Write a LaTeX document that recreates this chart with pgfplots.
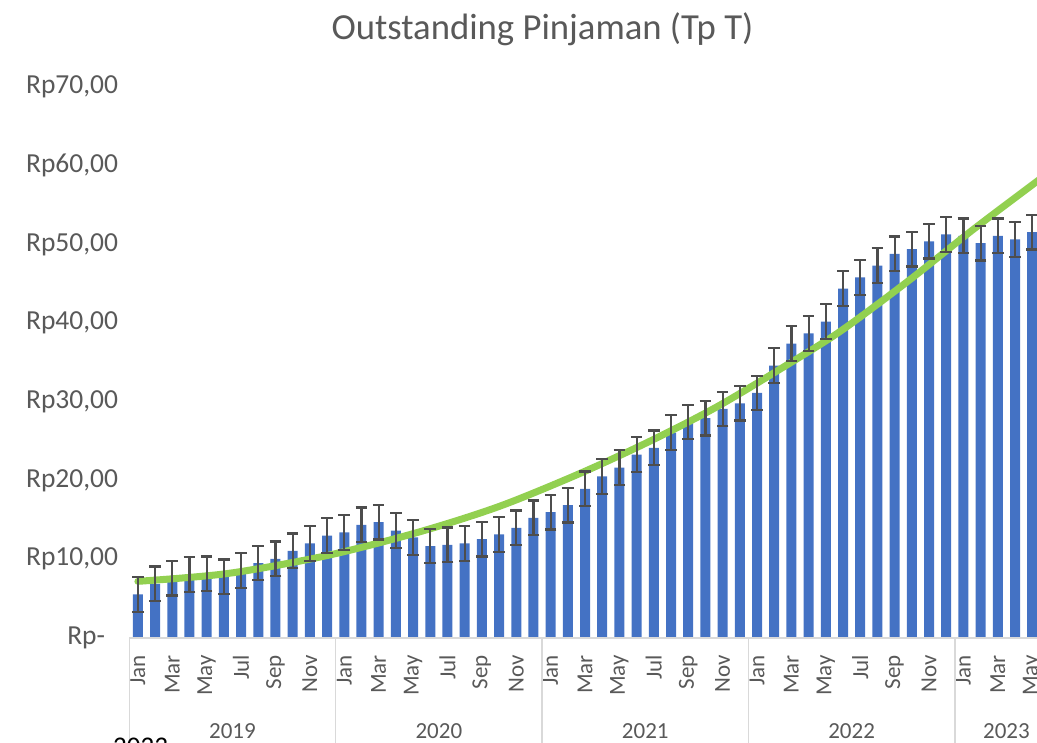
\documentclass[border=0pt]{standalone}
\usepackage{pgfplots}
\usepackage{pgfplotstable}
\pgfplotsset{compat=1.18}
\usepackage{fontspec}
\setmainfont{Carlito}

\definecolor{barblue}{HTML}{4472C4}
\definecolor{trendgreen}{HTML}{92D050}
\definecolor{errgray}{HTML}{4D4D4D}
\definecolor{txtgray}{HTML}{595959}
\definecolor{axgray}{HTML}{D9D9D9}

% outstanding loans per month, Jan 2019 (i=0) .. May 2023 (i=52)
\pgfplotstableread{
i v
0 5.55
1 6.89
2 7.61
3 8.06
4 8.16
5 7.78
6 8.60
7 9.52
8 10.06
9 11.07
10 12.03
11 13.00
12 13.41
13 14.38
14 14.72
15 13.64
16 12.78
17 11.68
18 11.84
19 12.01
20 12.56
21 13.16
22 14.00
23 15.27
24 15.99
25 16.88
26 18.95
27 20.52
28 21.66
29 23.31
30 24.15
31 26.10
32 27.45
33 27.92
34 29.10
35 29.82
36 31.13
37 34.60
38 37.40
39 38.70
40 40.19
41 44.40
42 45.80
43 47.30
44 48.80
45 49.40
46 50.40
47 51.27
48 51.10
49 50.17
50 51.10
51 50.63
52 51.56
}\loantable

\begin{document}
\begin{tikzpicture}
\begin{axis}[
    at={(129.3pt,-638pt)}, anchor=south west,
    scale only axis, width=928.7pt, height=551pt,
    xmin=-0.5, xmax=53.5, ymin=0, ymax=70,
    clip=false,
    axis line style={draw=none},
    major tick length=0pt,
    xtick={0,2,...,52},
    xticklabels={Jan,Mar,May,Jul,Sep,Nov,Jan,Mar,May,Jul,Sep,Nov,
                 Jan,Mar,May,Jul,Sep,Nov,Jan,Mar,May,Jul,Sep,Nov,
                 Jan,Mar,May},
    xticklabel style={yshift=-17pt, rotate=90, anchor=east, inner sep=0pt,
                      font=\fontsize{23}{23}\selectfont, text=txtgray},
    ytick={0,10,...,70},
    yticklabels={{Rp-\hspace*{13pt}},{Rp10,00},{Rp20,00},{Rp30,00},
                 {Rp40,00},{Rp50,00},{Rp60,00},{Rp70,00}},
    yticklabel style={anchor=east, inner sep=0pt, xshift=-11pt,
                      font=\fontsize{27.5}{27.5}\selectfont, text=txtgray},
  ]
  \addplot[ybar, bar width=10pt, fill=barblue, draw=none]
    table[x=i, y=v] {\loantable};
  % polynomial trend line
  \addplot[trendgreen, line width=7pt, smooth, line cap=round]
    coordinates {(0,7.2) (5.24,8.2) (11.05,10.5) (16.4,13.5) (21.05,16.75)
                 (25.7,20.9) (29.77,25.0) (33.65,29.35) (37.52,34.4)
                 (40.8,38.9) (44.7,45.2) (48.57,51.9) (52.27,58.0) (53,59.2)};
  \addplot[draw=none, mark=none, forget plot,
           error bars/.cd, y dir=both, y fixed=2.2, error mark=-,
           error bar style={draw=errgray, line width=2.2pt},
           error mark options={rotate=90, draw=errgray, line width=2.2pt,
                               mark size=5.8pt}]
    table[x=i, y=v] {\loantable};

  \draw[axgray, line width=1.5pt] (axis cs:-0.5,0) -- (axis cs:53.5,0);
  \draw[axgray, line width=1.5pt] (axis cs:-0.5,0) -- ++(0pt,-110pt);
  \draw[axgray, line width=1.5pt] (axis cs:11.5,0) -- ++(0pt,-110pt);
  \draw[axgray, line width=1.5pt] (axis cs:23.5,0) -- ++(0pt,-110pt);
  \draw[axgray, line width=1.5pt] (axis cs:35.5,0) -- ++(0pt,-110pt);
  \draw[axgray, line width=1.5pt] (axis cs:47.5,0) -- ++(0pt,-110pt);

  \node[anchor=base, yshift=-100pt, text=txtgray, font=\fontsize{23}{23}\selectfont]
    at (axis cs:5.5,0) {2019};
  \node[anchor=base, yshift=-100pt, text=txtgray, font=\fontsize{23}{23}\selectfont]
    at (axis cs:17.5,0) {2020};
  \node[anchor=base, yshift=-100pt, text=txtgray, font=\fontsize{23}{23}\selectfont]
    at (axis cs:29.5,0) {2021};
  \node[anchor=base, yshift=-100pt, text=txtgray, font=\fontsize{23}{23}\selectfont]
    at (axis cs:41.5,0) {2022};
  \node[anchor=base, yshift=-100pt, text=txtgray, font=\fontsize{23}{23}\selectfont]
    at (axis cs:50.5,0) {2023};
\end{axis}

\node[anchor=base, text=txtgray, font=\fontsize{36.7}{36.7}\selectfont]
  at (542.5pt,-39.5pt) {Outstanding Pinjaman (Tp T)};
% stray label cut off at the lower edge of the screenshot
\node[anchor=north west, inner sep=0pt, font=\fontsize{27}{27}\selectfont]
  at (113pt,-738pt) {2023};

\pgfresetboundingbox
\path[use as bounding box] (0pt,0pt) rectangle (1037pt,-743pt);
\end{tikzpicture}
\end{document}
